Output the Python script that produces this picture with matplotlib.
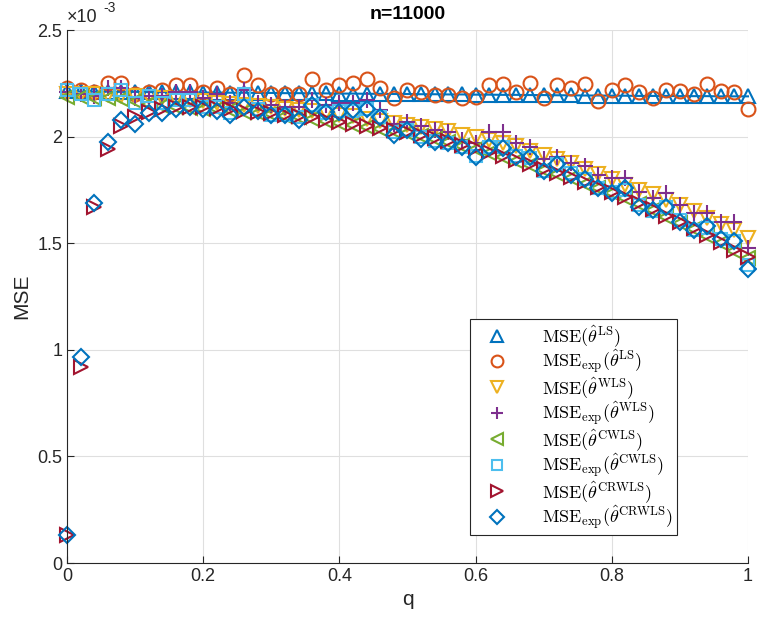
import matplotlib
matplotlib.use('Agg')
import matplotlib.pyplot as plt
import numpy as np

plt.rcParams['font.family'] = ['Liberation Sans', 'DejaVu Sans']
plt.rcParams['mathtext.fontset'] = 'cm'

q = np.linspace(0, 1, 51)

# values in units of 1e-3
mse_ls = [2.212, 2.212, 2.211, 2.211, 2.210, 2.210, 2.209, 2.209, 2.208, 2.208,
          2.207, 2.207, 2.206, 2.206, 2.205, 2.205, 2.204, 2.204, 2.203, 2.203,
          2.202, 2.202, 2.201, 2.201, 2.200, 2.200, 2.199, 2.199, 2.198, 2.198,
          2.197, 2.197, 2.196, 2.196, 2.195, 2.195, 2.194, 2.194, 2.193, 2.193,
          2.192, 2.192, 2.191, 2.191, 2.191, 2.190, 2.190, 2.190, 2.189, 2.189,
          2.189]
mse_exp_ls = [2.23, 2.22, 2.21, 2.25, 2.25, 2.20, 2.21, 2.22, 2.24, 2.24,
              2.21, 2.23, 2.20, 2.29, 2.24, 2.20, 2.20, 2.20, 2.27, 2.22,
              2.24, 2.25, 2.27, 2.23, 2.18, 2.22, 2.21, 2.195, 2.195, 2.18,
              2.185, 2.24, 2.245, 2.21, 2.25, 2.18, 2.24, 2.23, 2.245, 2.165,
              2.22, 2.24, 2.21, 2.18, 2.22, 2.215, 2.20, 2.245, 2.215, 2.21,
              2.13]
mse_wls = [2.20, 2.20, 2.20, 2.195, 2.19, 2.19, 2.185, 2.18, 2.175, 2.17,
           2.165, 2.16, 2.155, 2.15, 2.145, 2.14, 2.13, 2.125, 2.12, 2.11,
           2.10, 2.095, 2.085, 2.075, 2.065, 2.055, 2.045, 2.035, 2.025, 2.01,
           2.00, 1.985, 1.97, 1.955, 1.935, 1.915, 1.895, 1.875, 1.85, 1.825,
           1.80, 1.775, 1.75, 1.73, 1.705, 1.68, 1.65, 1.62, 1.59, 1.56,
           1.525]
mse_exp_wls = [2.21, 2.20, 2.19, 2.23, 2.23, 2.18, 2.19, 2.19, 2.21, 2.21,
               2.18, 2.20, 2.16, 2.22, 2.16, 2.15, 2.14, 2.14, 2.17, 2.15,
               2.16, 2.16, 2.17, 2.125, 2.06, 2.07, 2.05, 2.03, 2.02, 1.985,
               1.97, 2.02, 2.02, 1.97, 1.95, 1.895, 1.905, 1.875, 1.86, 1.82,
               1.805, 1.805, 1.74, 1.71, 1.735, 1.68, 1.64, 1.64, 1.60, 1.60,
               1.48]
mse_cwls = [2.185, 2.185, 2.18, 2.18, 2.175, 2.165, 2.155, 2.145, 2.14, 2.135,
            2.13, 2.13, 2.125, 2.115, 2.11, 2.105, 2.095, 2.09, 2.085, 2.075,
            2.065, 2.055, 2.045, 2.035, 2.025, 2.015, 2.003, 1.99, 1.975, 1.955,
            1.94, 1.925, 1.905, 1.885, 1.865, 1.845, 1.825, 1.805, 1.78, 1.76,
            1.735, 1.71, 1.685, 1.655, 1.625, 1.595, 1.565, 1.535, 1.50, 1.465,
            1.43]
mse_exp_cwls = [2.22, 2.20, 2.17, 2.20, 2.22, 2.16, 2.19, 2.16, 2.17, 2.17,
                2.14, 2.14, 2.11, 2.20, 2.13, 2.10, 2.10, 2.09, 2.15, 2.11,
                2.12, 2.12, 2.13, 2.09, 2.02, 2.03, 2.00, 1.98, 1.97, 1.95,
                1.91, 1.95, 1.95, 1.91, 1.90, 1.84, 1.87, 1.83, 1.80, 1.76,
                1.74, 1.75, 1.68, 1.65, 1.67, 1.61, 1.56, 1.57, 1.52, 1.51,
                1.40]
mse_crwls = [0.13, 0.92, 1.67, 1.94, 2.05, 2.09, 2.115, 2.13, 2.14, 2.14,
             2.14, 2.135, 2.13, 2.12, 2.115, 2.11, 2.10, 2.095, 2.09, 2.08,
             2.07, 2.06, 2.05, 2.04, 2.03, 2.02, 2.008, 1.995, 1.98, 1.96,
             1.945, 1.93, 1.91, 1.89, 1.87, 1.85, 1.83, 1.81, 1.785, 1.765,
             1.74, 1.715, 1.69, 1.66, 1.63, 1.60, 1.57, 1.54, 1.505, 1.47,
             1.435]
mse_exp_crwls = [0.13, 0.966, 1.69, 1.975, 2.08, 2.06, 2.11, 2.11, 2.13, 2.14,
                 2.13, 2.12, 2.10, 2.14, 2.12, 2.10, 2.10, 2.08, 2.15, 2.115,
                 2.115, 2.125, 2.13, 2.09, 2.01, 2.03, 1.99, 1.975, 1.97, 1.95,
                 1.905, 1.95, 1.945, 1.905, 1.905, 1.84, 1.87, 1.82, 1.80, 1.76,
                 1.735, 1.76, 1.67, 1.655, 1.67, 1.60, 1.56, 1.58, 1.52, 1.51,
                 1.38]

labels = [r'$\mathrm{MSE}(\hat{\theta}^{\mathrm{LS}})$',
          r'$\mathrm{MSE}_{\mathrm{exp}}(\hat{\theta}^{\mathrm{LS}})$',
          r'$\mathrm{MSE}(\hat{\theta}^{\mathrm{WLS}})$',
          r'$\mathrm{MSE}_{\mathrm{exp}}(\hat{\theta}^{\mathrm{WLS}})$',
          r'$\mathrm{MSE}(\hat{\theta}^{\mathrm{CWLS}})$',
          r'$\mathrm{MSE}_{\mathrm{exp}}(\hat{\theta}^{\mathrm{CWLS}})$',
          r'$\mathrm{MSE}(\hat{\theta}^{\mathrm{CRWLS}})$',
          r'$\mathrm{MSE}_{\mathrm{exp}}(\hat{\theta}^{\mathrm{CRWLS}})$']

series = [mse_ls, mse_exp_ls, mse_wls, mse_exp_wls,
          mse_cwls, mse_exp_cwls, mse_crwls, mse_exp_crwls]
markers = ['^', 'o', 'v', '+', '<', 's', '>', 'D']
colors = ['#0072BD', '#D95319', '#EDB120', '#7E2F8E',
          '#77AC30', '#4DBEEE', '#A2142F', '#0072BD']
sizes = [10, 10, 10, 11, 10, 8, 10, 8]

fig = plt.figure(figsize=(7.57, 6.30), dpi=100)
ax = fig.add_axes([0.0885, 0.1063, 0.8996, 0.846])

# theoretical LS curve is drawn as a line as well
ax.plot(q, mse_ls, '-', color=colors[0], lw=1.5, clip_on=False)

handles = []
for y, m, c, s, lab in zip(series, markers, colors, sizes, labels):
    h, = ax.plot(q, y, linestyle='none', marker=m, markersize=s,
                 markerfacecolor='none', markeredgecolor=c,
                 markeredgewidth=1.5, clip_on=False, label=lab)
    handles.append(h)

ax.set_xlim(0, 1)
ax.set_ylim(0, 2.5)
ax.set_xticks([0, 0.2, 0.4, 0.6, 0.8, 1])
ax.set_xticklabels(['0', '0.2', '0.4', '0.6', '0.8', '1'])
ax.set_yticks([0, 0.5, 1, 1.5, 2, 2.5])
ax.set_yticklabels(['0', '0.5', '1', '1.5', '2', '2.5'])
ax.tick_params(direction='in', labelsize=13, colors='#262626', length=5)
ax.grid(True, color='#dfdfdf', lw=0.8)
ax.set_axisbelow(True)
for sp in ['top', 'right']:
    ax.spines[sp].set_visible(False)
for sp in ['left', 'bottom']:
    ax.spines[sp].set_color('#262626')

ax.set_xlabel('q', fontsize=15, color='#262626')
ax.set_ylabel('MSE', fontsize=15, color='#262626')
ax.set_title('n=11000', fontsize=14, fontweight='bold', pad=8)
ax.text(0.0, 1.008, '\u00d710', transform=ax.transAxes,
        fontsize=13, va='bottom', ha='left', color='#262626')
ax.text(0.054, 1.028, '-3', transform=ax.transAxes,
        fontsize=10, va='bottom', ha='left', color='#262626')

leg = ax.legend(handles=handles, loc='lower left',
                bbox_to_anchor=(0.592, 0.052), fontsize=13,
                fancybox=False, edgecolor='#262626', framealpha=1,
                borderpad=0.2, labelspacing=-0.05, handlelength=2.6,
                handletextpad=1.2, borderaxespad=0, markerscale=0.85)
leg.get_frame().set_linewidth(0.8)

fig.savefig('out.png', dpi=100)
